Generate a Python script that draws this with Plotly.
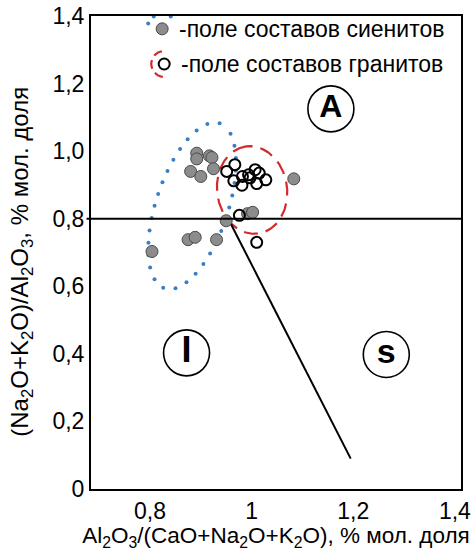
import numpy as np
import plotly.graph_objects as go

# ---------------- data ----------------
syenite_x = [0.892, 0.892, 0.917, 0.922, 0.925, 0.880, 0.900, 1.083, 0.950, 0.992, 1.002, 0.875, 0.889, 0.931, 0.804]
syenite_y = [0.994, 0.977, 0.986, 0.981, 0.948, 0.940, 0.925, 0.918, 0.794, 0.815, 0.819, 0.738, 0.745, 0.738, 0.703]

granite_x = [0.967, 0.951, 0.965, 0.981, 0.982, 0.994, 1.007, 1.015, 1.028, 1.010, 0.997, 0.976, 1.010]
granite_y = [0.960, 0.940, 0.912, 0.899, 0.925, 0.930, 0.945, 0.935, 0.915, 0.904, 0.921, 0.810, 0.730]

x_tickvals = [0.8, 1.0, 1.2, 1.4]
x_ticktext = ["0,8", "1", "1,2", "1,4"]
y_tickvals = [0, 0.2, 0.4, 0.6, 0.8, 1.0, 1.2, 1.4]
y_ticktext = ["0", "0,2", "0,4", "0,6", "0,8", "1,0", "1,2", "1,4"]

boundary_y = 0.8
diag_x = [0.954, 1.195]
diag_y = [0.8, 0.09]

field_names = ["A", "I", "s"]
field_x = [1.156, 0.872, 1.265]
field_y = [1.125, 0.403, 0.398]
field_font = [32, 36, 34]

legend_texts = ["-поле составов сиенитов", "-поле составов гранитов"]

x_title = "Al<sub>2</sub>O<sub>3</sub>/(CaO+Na<sub>2</sub>O+K<sub>2</sub>O), % мол. доля"
y_title = "(Na<sub>2</sub>O+K<sub>2</sub>O)/Al<sub>2</sub>O<sub>3</sub>, % мол. доля"

# field outlines: centre (data), semi-axes (px), rotation (deg)
syenite_field = dict(cx=0.883, cy=0.838, a=87, b=36, ang=71.6)
granite_field = dict(cx=1.001, cy=0.885, a=44, b=35, ang=98.0)

# ---------------- helpers ----------------
PX_X, PX_Y = 508.0, 338.0  # plot pixels per data unit (for round shapes)


def ellipse(cx, cy, a, b, ang, n=1500):
    t = np.linspace(0, 2 * np.pi, n)
    th = np.radians(ang)
    u, v = a * np.cos(t), b * np.sin(t)
    dx = u * np.cos(th) - v * np.sin(th)
    dy = u * np.sin(th) + v * np.cos(th)
    return dx, dy, cx, cy


def to_data(dx, dy, cx, cy):
    return cx + dx / PX_X, cy + dy / PX_Y


def dots_along(dx, dy, step):
    seg = np.hypot(np.diff(dx), np.diff(dy))
    s = np.concatenate([[0], np.cumsum(seg)])
    targets = np.arange(0, s[-1] - step * 0.5, step)
    idx = np.searchsorted(s, targets)
    return dx[idx], dy[idx]


BLUE = "#3b7ec4"
RED = "#d22a2a"
GRAY = "#8c8c8c"
FONT = "Liberation Sans, Arial, sans-serif"

fig = go.Figure()

# syenite field (dotted blue)
dx, dy, cx, cy = ellipse(**syenite_field)
ddx, ddy = dots_along(dx, dy, 12.5)
bx, by = to_data(ddx, ddy, cx, cy)
fig.add_trace(go.Scatter(x=bx, y=by, mode="markers",
                         marker=dict(size=4, color=BLUE), hoverinfo="skip"))

# granite field (dashed red)
dx, dy, cx, cy = ellipse(**granite_field)
rx, ry = to_data(dx, dy, cx, cy)
fig.add_trace(go.Scatter(x=rx, y=ry, mode="lines",
                         line=dict(color=RED, width=2.2, dash="14px,8px"), hoverinfo="skip"))

# boundary lines
fig.add_shape(type="line", xref="paper", yref="y", x0=-0.012, x1=1, y0=boundary_y, y1=boundary_y,
              line=dict(color="black", width=2), layer="above")
fig.add_trace(go.Scatter(x=diag_x, y=diag_y, mode="lines",
                         line=dict(color="black", width=2), hoverinfo="skip"))

# samples
fig.add_trace(go.Scatter(x=syenite_x, y=syenite_y, mode="markers",
                         marker=dict(size=12, color=GRAY, line=dict(color="#4a4a4a", width=1))))
fig.add_trace(go.Scatter(x=granite_x, y=granite_y, mode="markers",
                         marker=dict(size=11, symbol="circle-open", color="black", line=dict(width=2))))

# field labels
fig.add_trace(go.Scatter(x=field_x, y=field_y, mode="markers+text",
                         text=["<b>%s</b>" % t for t in field_names], textposition="middle center",
                         textfont=dict(family=FONT, size=field_font, color="black"),
                         marker=dict(size=46, color="white", line=dict(color="black", width=1.6)),
                         cliponaxis=False, hoverinfo="skip"))

# legend symbols (inside the frame, top)
leg_sy = (0.824, 1.362)
leg_gr = (0.828, 1.258)
t = np.radians(np.linspace(55, 180, 200))
adx, ady = 15 * np.cos(t), 15 * np.sin(t)
pdx, pdy = dots_along(adx, ady, 9)
lbx, lby = to_data(pdx, pdy, *leg_sy)
fig.add_trace(go.Scatter(x=lbx, y=lby, mode="markers", marker=dict(size=4, color=BLUE),
                         cliponaxis=False, hoverinfo="skip"))
t = np.radians(np.linspace(100, 265, 200))
lrx, lry = to_data(13 * np.cos(t), 13 * np.sin(t), *leg_gr)
fig.add_trace(go.Scatter(x=lrx, y=lry, mode="lines",
                         line=dict(color=RED, width=2.2, dash="9px,5px"), hoverinfo="skip"))
fig.add_trace(go.Scatter(x=[leg_sy[0]], y=[leg_sy[1]], mode="markers",
                         marker=dict(size=12, color=GRAY, line=dict(color="#4a4a4a", width=1)),
                         cliponaxis=False))
fig.add_trace(go.Scatter(x=[leg_gr[0]], y=[leg_gr[1]], mode="markers",
                         marker=dict(size=11, symbol="circle-open", color="black", line=dict(width=2)),
                         cliponaxis=False))
for (lx, ly), txt in zip([leg_sy, leg_gr], legend_texts):
    fig.add_annotation(x=lx + 0.030, y=ly, text=txt, showarrow=False, xanchor="left", yanchor="middle",
                       font=dict(family=FONT, size=23, color="black"))

# y-axis title as a rotated annotation (placed like the reference)
fig.add_annotation(xref="paper", yref="paper", x=-0.187, y=0.48, text=y_title, textangle=-90,
                   showarrow=False, xanchor="center", yanchor="middle",
                   font=dict(family=FONT, size=24, color="black"))

fig.update_layout(
    width=476, height=551,
    margin=dict(l=91, r=15, t=16, b=62),
    plot_bgcolor="white", paper_bgcolor="white",
    showlegend=False,
    font=dict(family=FONT, size=23, color="black"),
)
fig.update_xaxes(
    range=[0.684, 1.412], tickvals=x_tickvals, ticktext=x_ticktext,
    showline=True, mirror=True, linecolor="black", linewidth=2,
    showgrid=False, zeroline=False, ticks="",
    tickfont=dict(size=23),
    title=dict(text=x_title, font=dict(size=22.5), standoff=5),
    automargin=False,
)
fig.update_yaxes(
    range=[0, 1.4], tickvals=y_tickvals, ticktext=y_ticktext,
    showline=True, mirror=True, linecolor="black", linewidth=2,
    showgrid=False, zeroline=False, ticks="",
    tickfont=dict(size=23),
    automargin=False,
)

fig.write_html("out.html")
